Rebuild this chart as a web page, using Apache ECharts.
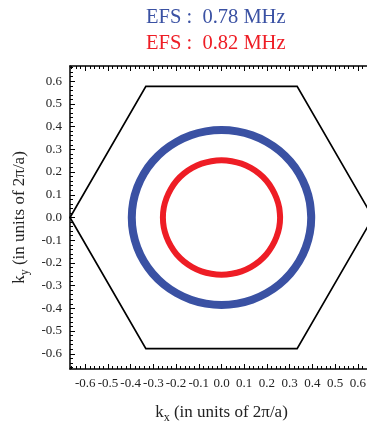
<!DOCTYPE html>
<html>
<head>
<meta charset="utf-8">
<script src="https://cdn.jsdelivr.net/npm/echarts@6/dist/echarts.min.js"></script>
<style>html,body{margin:0;padding:0;background:#fff}#c{width:367px;height:423px}</style>
</head>
<body>
<div id="c"></div>
<script>
var titleLines = ['EFS :  0.78 MHz', 'EFS :  0.82 MHz'];
var majorTicks = [-0.6, -0.5, -0.4, -0.3, -0.2, -0.1, 0.0, 0.1, 0.2, 0.3, 0.4, 0.5, 0.6];
var minorTicks = [];
for (var i = -33; i <= 33; i++) minorTicks.push(+(i * 0.02).toFixed(2));
var axisMin = -0.667, axisMax = 0.667;

var hexX = [0.667, 0.333, -0.333, -0.667, -0.333, 0.333, 0.667];
var hexY = [0, 0.577, 0.577, 0, -0.577, -0.577, 0];

// blue contour (0.78 MHz) points
var blueX = [0.395, 0.389, 0.371, 0.342, 0.303, 0.254, 0.198, 0.135, 0.069, 0,
  -0.069, -0.135, -0.198, -0.254, -0.303, -0.342, -0.371, -0.389, -0.395,
  -0.389, -0.371, -0.342, -0.303, -0.254, -0.198, -0.135, -0.069, 0,
  0.069, 0.135, 0.198, 0.254, 0.303, 0.342, 0.371, 0.389, 0.395, 0.389];
var blueY = [0, 0.067, 0.132, 0.193, 0.247, 0.295, 0.333, 0.362, 0.379, 0.385,
  0.379, 0.362, 0.333, 0.295, 0.247, 0.193, 0.132, 0.067, 0,
  -0.067, -0.132, -0.193, -0.247, -0.295, -0.333, -0.362, -0.379, -0.385,
  -0.379, -0.362, -0.333, -0.295, -0.247, -0.193, -0.132, -0.067, 0, 0.067];
// red contour (0.82 MHz)
var redX = [0.258, 0.254, 0.242, 0.223, 0.198, 0.166, 0.129, 0.088, 0.045, 0,
  -0.045, -0.088, -0.129, -0.166, -0.198, -0.223, -0.242, -0.254, -0.258,
  -0.254, -0.242, -0.223, -0.198, -0.166, -0.129, -0.088, -0.045, 0,
  0.045, 0.088, 0.129, 0.166, 0.198, 0.223, 0.242, 0.254, 0.258, 0.254];
var redY = [0, 0.044, 0.086, 0.126, 0.162, 0.193, 0.218, 0.237, 0.248, 0.252,
  0.248, 0.237, 0.218, 0.193, 0.162, 0.126, 0.086, 0.044, 0,
  -0.044, -0.086, -0.126, -0.162, -0.193, -0.218, -0.237, -0.248, -0.252,
  -0.248, -0.237, -0.218, -0.193, -0.162, -0.126, -0.086, -0.044, 0, 0.044];

function zip(a, b) { return a.map(function (v, i) { return [v, b[i]]; }); }

var FONT = '"Liberation Serif", "DejaVu Serif", serif';
var BLUE = '#3a51a3', RED = '#ee1d25';

function mkAxis(pos, major, labels) {
  return {
    type: 'value', position: pos, min: axisMin, max: axisMax,
    splitLine: { show: false },
    axisLine: { show: major, onZero: false, lineStyle: { color: '#000', width: 1.5 } },
    axisTick: { show: true, inside: true, length: major ? 5 : 3, customValues: major ? majorTicks : minorTicks, lineStyle: { color: '#000', width: 1 } },
    axisLabel: labels ? { show: true, customValues: majorTicks, formatter: function (v) { return v.toFixed(1); }, fontFamily: FONT, fontSize: 13, color: '#222', margin: 8 } : { show: false }
  };
}

var xAxes = [mkAxis('bottom', true, true), mkAxis('bottom', false, false), mkAxis('top', true, false), mkAxis('top', false, false)];
var yAxes = [mkAxis('left', true, true), mkAxis('left', false, false), mkAxis('right', true, false), mkAxis('right', false, false)];
var nameStyle = { rich: { k: { fontFamily: FONT, fontSize: 17, color: '#222' }, s: { fontFamily: FONT, fontSize: 12, color: '#222', verticalAlign: 'bottom', padding: [10, 0, 0, 0] } } };
xAxes[0].name = '{k|k}{s|x}{k| (in units of 2π/a)}';
xAxes[0].nameLocation = 'middle';
xAxes[0].nameGap = 33;
xAxes[0].nameTextStyle = nameStyle;
yAxes[0].name = '{k|k}{s|y}{k| (in units of 2π/a)}';
yAxes[0].nameLocation = 'middle';
yAxes[0].nameGap = 37;
yAxes[0].nameTextStyle = nameStyle;

var chart = echarts.init(document.getElementById('c'));
chart.setOption({
  animation: false,
  backgroundColor: '#fff',
  title: [
    { text: titleLines[0], left: 141, top: 2, textStyle: { fontFamily: FONT, fontSize: 20.5, fontWeight: 'normal', color: BLUE } },
    { text: titleLines[1], left: 141, top: 28, textStyle: { fontFamily: FONT, fontSize: 20.5, fontWeight: 'normal', color: RED } }
  ],
  grid: { left: 70, top: 66, right: -6, bottom: 54, containLabel: false, outerBoundsMode: 'none' },
  xAxis: xAxes,
  yAxis: yAxes,
  series: [
    { type: 'line', data: zip(hexX, hexY), symbol: 'none', lineStyle: { color: '#000', width: 1.7, join: 'miter' }, clip: false },
    { type: 'line', data: zip(blueX, blueY), symbol: 'none', smooth: 0.3, lineStyle: { color: BLUE, width: 8, cap: 'round', join: 'round' } },
    { type: 'line', data: zip(redX, redY), symbol: 'none', smooth: 0.3, lineStyle: { color: RED, width: 6, cap: 'round', join: 'round' } }
  ]
});
</script>
</body>
</html>
